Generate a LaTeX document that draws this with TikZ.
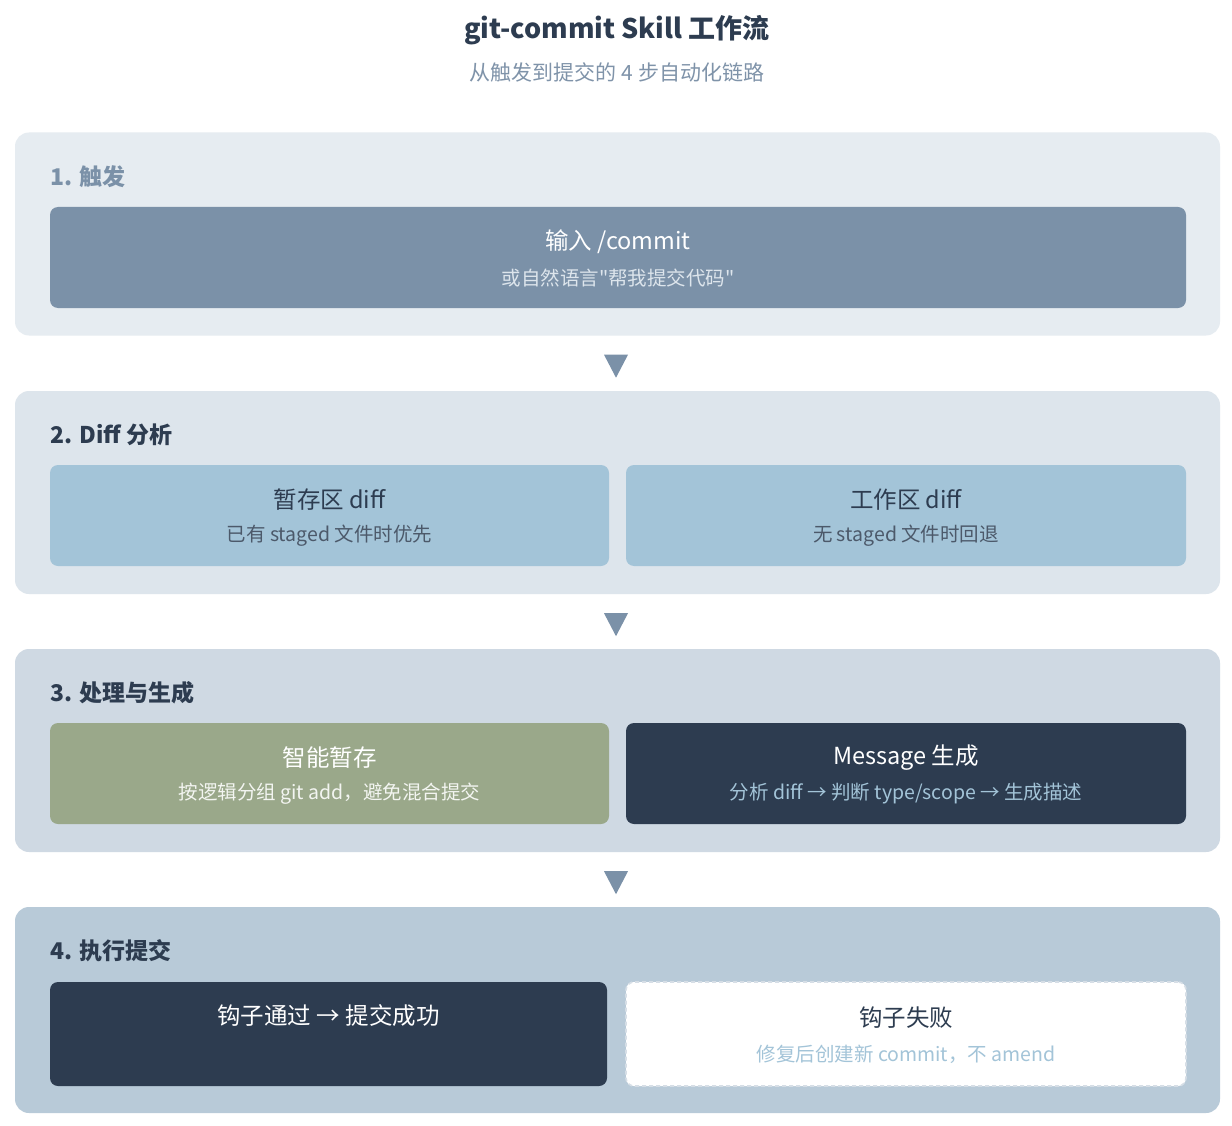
\documentclass[tikz,border=0pt]{standalone}
\usepackage{fontspec}
\setmainfont{Noto Sans CJK SC}
\newfontfamily\rawfont{Noto Sans CJK SC}
\usetikzlibrary{positioning,calc}

\definecolor{navy}{HTML}{2D3C50}
\definecolor{slate}{HTML}{7B91A8}
\definecolor{subgray}{HTML}{7F93A9}
\definecolor{skyblue}{HTML}{A3C4D8}
\definecolor{sage}{HTML}{9AA88A}
\definecolor{bgone}{HTML}{E6ECF1}
\definecolor{bgtwo}{HTML}{DDE5EC}
\definecolor{bgthree}{HTML}{CFD9E3}
\definecolor{bgfour}{HTML}{B8CAD8}
\definecolor{dashgray}{HTML}{D6DEE6}

\begin{document}
\begin{tikzpicture}[x=1pt, y=-1pt, every node/.style={inner sep=0pt}]
    \tikzstyle{panel} = [rectangle, rounded corners=14pt,
    minimum width=1205pt, minimum height=203pt]
    \tikzstyle{block} = [rectangle, rounded corners=8pt, minimum height=101pt]
    \tikzstyle{wide} = [block, minimum width=1136pt]
    \tikzstyle{half} = [block, minimum width=559pt]
    \tikzstyle{steplabel} = [anchor=west, font=\bfseries\fontsize{23}{27}\selectfont]
    \tikzstyle{head} = [font=\fontsize{23.5}{27}\selectfont]
    \tikzstyle{note} = [font=\fontsize{19.5}{23}\selectfont]

    \fill[white] (0,0) rectangle (1232,1126);
    \useasboundingbox (0,0) rectangle (1232,1126);

    % title
    \node [font=\bfseries\fontsize{27}{31}\selectfont, text=navy] (title) at (617,30) {git-commit Skill 工作流};
    \node [font=\fontsize{21}{25}\selectfont, text=subgray] (subtitle) at (617,72) {从触发到提交的 4 步自动化链路};

    % panels
    \node [panel, fill=bgone] (p1) at (617.5,234) {};
    \node [panel, fill=bgtwo] (p2) at (617.5,492.5) {};
    \node [panel, fill=bgthree] (p3) at (617.5,750.5) {};
    \node [panel, fill=bgfour, minimum height=206pt] (p4) at (617.5,1010) {};

    \node [steplabel, text=slate] (l1) at (50,177) {1. 触发};
    \node [steplabel, text=navy] (l2) at (50,435) {2. Diff 分析};
    \node [steplabel, text=navy] (l3) at (50,693) {3. 处理与生成};
    \node [steplabel, text=navy] (l4) at (50,951) {4. 执行提交};

    % step 1
    \node [wide, fill=slate] (trigger) at (618,257.5) {};
    \node [head, text=white] at ([yshift=15.5pt]trigger.center) {输入 /commit};
    \node [note, text=bgtwo] at ([yshift=-20.5pt]trigger.center) {或自然语言{\rawfont "}帮我提交代码{\rawfont "}};

    % step 2
    \node [half, fill=skyblue] (staged) at (329.5,515.5) {};
    \node [head, text=navy] at ([yshift=15.5pt]staged.center) {暂存区 diff};
    \node [note, text=navy!85] at ([yshift=-20.5pt]staged.center) {已有 staged 文件时优先};
    \node [half, fill=skyblue, minimum width=560pt] (worktree) at (906,515.5) {};
    \node [head, text=navy] at ([yshift=15.5pt]worktree.center) {工作区 diff};
    \node [note, text=navy!85] at ([yshift=-20.5pt]worktree.center) {无 staged 文件时回退};

    % step 3
    \node [half, fill=sage] (smart) at (329.5,773.5) {};
    \node [head, text=white] at ([yshift=15.5pt]smart.center) {智能暂存};
    \node [note, text=white!88!sage] at ([yshift=-20.5pt]smart.center) {按逻辑分组 git add，避免混合提交};
    \node [half, fill=navy, minimum width=560pt] (message) at (906,773.5) {};
    \node [head, text=white] at ([yshift=15.5pt]message.center) {Message 生成};
    \node [note, text=skyblue] at ([yshift=-20.5pt]message.center) {分析 diff → 判断 type/scope → 生成描述};

    % step 4
    \node [half, fill=navy, minimum width=557pt, minimum height=104pt] (pass) at (328.5,1034) {};
    \node [head, text=white] at ([yshift=18pt]pass.center) {钩子通过 → 提交成功};
    \node [half, fill=white, draw=dashgray, dash pattern=on 4pt off 3pt, line width=1.6pt,
    minimum width=560pt, minimum height=104pt] (fail) at (906,1034) {};
    \node [head, text=navy] at ([yshift=16pt]fail.center) {钩子失败};
    \node [note, text=skyblue] at ([yshift=-20pt]fail.center) {修复后创建新 commit，不 amend};

    % arrows between steps
    \foreach \a/\b in {p1/p2, p2/p3, p3/p4}
        \fill [slate] ($(\a.south)+(-13.5,19)$) -- ($(\a.south)+(10.5,19)$) -- ($(\a.south)+(-1.5,42)$) -- cycle;
\end{tikzpicture}
\end{document}
